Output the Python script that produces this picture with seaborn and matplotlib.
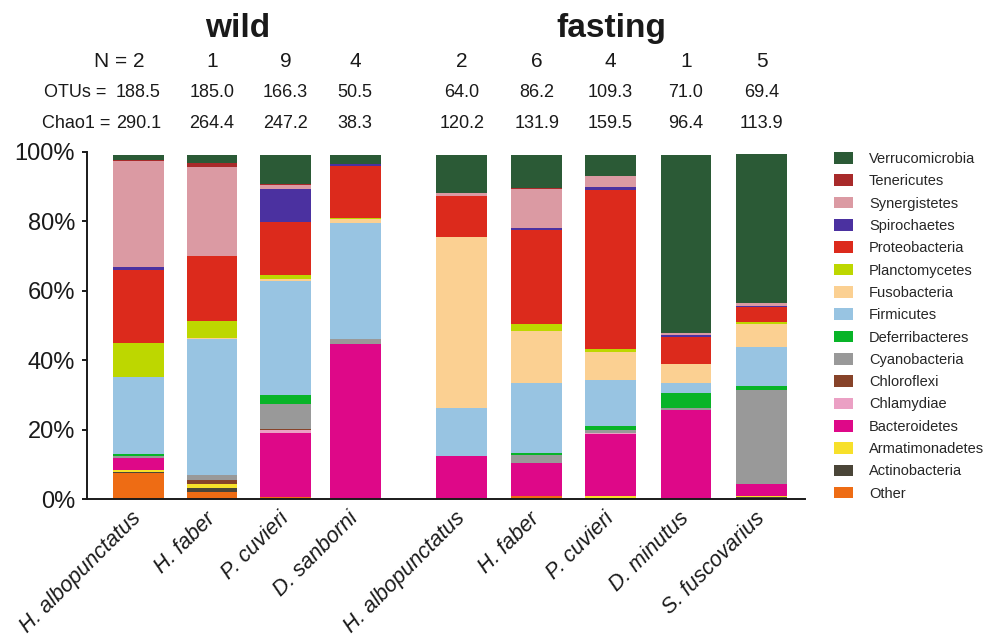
import numpy as np
import pandas as pd
import matplotlib
matplotlib.use("Agg")
import matplotlib.pyplot as plt
import matplotlib.transforms as mtransforms
from matplotlib.patches import Patch
from matplotlib.ticker import PercentFormatter
import seaborn as sns

# samples (wild group then fasting group)
species = ["H. albopunctatus", "H. faber", "P. cuvieri", "D. sanborni",
           "H. albopunctatus", "H. faber", "P. cuvieri", "D. minutus", "S. fuscovarius"]
n_samples = [2, 1, 9, 4, 2, 6, 4, 1, 5]
otus = [188.5, 185.0, 166.3, 50.5, 64.0, 86.2, 109.3, 71.0, 69.4]
chao1 = [290.1, 264.4, 247.2, 38.3, 120.2, 131.9, 159.5, 96.4, 113.9]

# relative abundance (%) per phylum, one value per sample
other = [7.5, 1.9, 0.7, 0, 0.4, 1.0, 0, 0, 0]
actinobacteria = [0.4, 1.2, 0, 0, 0, 0, 0.4, 0, 0.6]
armatimonadetes = [0.6, 1.1, 0, 0, 0, 0, 0.5, 0, 0.3]
bacteroidetes = [3.3, 0, 18.2, 44.7, 12.0, 9.5, 17.8, 25.6, 3.5]
chlamydiae = [0, 0, 1.0, 0, 0, 0, 0.3, 0, 0]
chloroflexi = [0, 1.2, 0.4, 0, 0, 0, 0, 0, 0]
cyanobacteria = [0.5, 1.4, 7.1, 1.4, 0, 2.3, 0.8, 0.6, 27.1]
deferribacteres = [0.6, 0, 2.6, 0, 0, 0.6, 1.1, 4.3, 1.2]
firmicutes = [22.4, 39.2, 32.9, 33.4, 13.8, 20.0, 13.3, 2.9, 11.2]
fusobacteria = [0, 0.4, 0.4, 1.2, 49.3, 14.9, 8.3, 5.5, 6.6]
planctomycetes = [9.6, 4.8, 1.3, 0.4, 0, 2.0, 0.7, 0, 0.6]
proteobacteria = [21.0, 18.7, 15.3, 14.9, 11.7, 27.3, 45.8, 7.8, 4.3]
spirochaetes = [0.9, 0, 9.5, 0.5, 0, 0.4, 0.9, 0.6, 0.3]
synergistetes = [30.5, 25.9, 1.2, 0, 0.9, 11.2, 3.2, 0.6, 0.9]
tenericutes = [0.4, 1.0, 0.2, 0, 0.2, 0.3, 0, 0, 0]
verrucomicrobia = [1.3, 2.2, 8.4, 2.7, 10.9, 9.5, 6.1, 51.3, 42.7]

# stacking order, bottom to top
phyla = ["Other", "Actinobacteria", "Armatimonadetes", "Bacteroidetes", "Chlamydiae",
         "Chloroflexi", "Cyanobacteria", "Deferribacteres", "Firmicutes", "Fusobacteria",
         "Planctomycetes", "Proteobacteria", "Spirochaetes", "Synergistetes",
         "Tenericutes", "Verrucomicrobia"]
df = pd.DataFrame({
    "Other": other, "Actinobacteria": actinobacteria, "Armatimonadetes": armatimonadetes,
    "Bacteroidetes": bacteroidetes, "Chlamydiae": chlamydiae, "Chloroflexi": chloroflexi,
    "Cyanobacteria": cyanobacteria, "Deferribacteres": deferribacteres,
    "Firmicutes": firmicutes, "Fusobacteria": fusobacteria,
    "Planctomycetes": planctomycetes, "Proteobacteria": proteobacteria,
    "Spirochaetes": spirochaetes, "Synergistetes": synergistetes,
    "Tenericutes": tenericutes, "Verrucomicrobia": verrucomicrobia})

colors = {"Verrucomicrobia": "#2b5a36", "Tenericutes": "#a82a2a", "Synergistetes": "#db9aa3",
          "Spirochaetes": "#4b31a0", "Proteobacteria": "#dc2a1c", "Planctomycetes": "#bdd700",
          "Fusobacteria": "#fbd092", "Firmicutes": "#98c4e2", "Deferribacteres": "#08b428",
          "Cyanobacteria": "#999999", "Chloroflexi": "#874329", "Chlamydiae": "#eba0c4",
          "Bacteroidetes": "#de0888", "Armatimonadetes": "#f7e02a",
          "Actinobacteria": "#4a4538", "Other": "#ee6c14"}

sns.set_style("ticks")
plt.rcParams['font.family'] = ['Liberation Sans', 'DejaVu Sans']
ink = "#1a1a1a"

fig = plt.figure(figsize=(9.94, 6.41), dpi=100)
ax = fig.add_axes([0.0875, 0.2215, 0.7224, 0.5414])

# bar centres: wild group, gap, fasting group
xpos = [0, 1, 2, 2.95, 4.4, 5.42, 6.42, 7.45, 8.48]

bottom = np.zeros(len(xpos))
for ph in phyla:
    vals = df[ph].to_numpy()
    ax.bar(xpos, vals, bottom=bottom, width=0.69, color=colors[ph], linewidth=0)
    bottom += vals

ax.set_xlim(-0.70, 9.07)
ax.set_ylim(0, 100)
ax.set_yticks(range(0, 101, 20))
ax.yaxis.set_major_formatter(PercentFormatter(xmax=100, decimals=0))
ax.set_xticks(xpos)
ax.set_xticklabels(species, rotation=45, ha="right", va="center", rotation_mode="anchor",
                   fontstyle="italic", fontsize=15.5, color=ink)
ax.tick_params(axis="x", length=0, pad=12)
ax.tick_params(axis="y", length=3.6, width=1.4, labelsize=17, pad=5, colors=ink)
sns.despine(ax=ax)
for s in ["left", "bottom"]:
    ax.spines[s].set_linewidth(1.4)
    ax.spines[s].set_color(ink)

# header text
trans = mtransforms.blended_transform_factory(ax.transData, ax.transAxes)
ax.text(1.35, 1.356, "wild", transform=trans, fontsize=24, weight="bold",
        ha="center", va="center", color=ink)
ax.text(6.43, 1.356, "fasting", transform=trans, fontsize=24, weight="bold",
        ha="center", va="center", color=ink)

rows = [(n_samples, "{:d}", 1.260, 15, "N = "),
        (otus, "{:.1f}", 1.170, 13, "OTUs =  "),
        (chao1, "{:.1f}", 1.082, 13, "Chao1 = ")]
for vals, fmt, y, fs, prefix in rows:
    for i, (x, v) in enumerate(zip(xpos, vals)):
        t = ax.text(x, y, fmt.format(v), transform=trans, fontsize=fs,
                    ha="center", va="center", color=ink)
        if i == 0:
            ax.annotate(prefix, xy=(0, 0), xycoords=t, ha="right", va="bottom",
                        fontsize=fs, color=ink)

handles = [Patch(facecolor=colors[p], edgecolor="none") for p in phyla[::-1]]
fig.legend(handles, phyla[::-1], loc="upper left", bbox_to_anchor=(834 / 994, 1 - 152 / 641),
           frameon=False, fontsize=10.5, handlelength=1.3, handleheight=0.85,
           handletextpad=1.1, labelspacing=0.57, borderaxespad=0, borderpad=0)

fig.savefig("out.png", dpi=100)
